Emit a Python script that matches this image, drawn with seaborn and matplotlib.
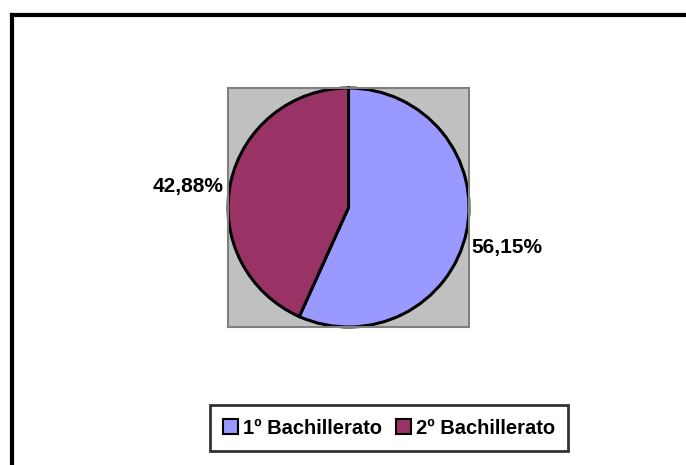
import matplotlib
matplotlib.use("Agg")
import matplotlib.pyplot as plt
import seaborn as sns
from matplotlib.lines import Line2D

# datos del gráfico
categorias = ["1º Bachillerato", "2º Bachillerato"]
porcentajes = [56.15, 42.88]
colores = ["#9999FF", "#993366"]

sns.set_style("white")
plt.rcParams['font.family'] = ['Liberation Sans', 'DejaVu Sans']
plt.rcParams['text.color'] = 'black'

fig = plt.figure(figsize=(6.86, 4.65), dpi=100)
ax = fig.add_axes([228 / 686, 1 - 327 / 465, 241 / 686, 239 / 465])

paleta = sns.color_palette(colores)
etiquetas = [f"{v:.2f}%".replace(".", ",") for v in porcentajes]
wedges, textos = ax.pie(porcentajes, colors=paleta, startangle=90, counterclock=False,
                        labels=etiquetas, labeldistance=1.04,
                        wedgeprops=dict(edgecolor="black", linewidth=2.2),
                        textprops=dict(fontsize=15, fontweight="bold", color="black"))
# ajuste fino de las etiquetas (Excel las coloca algo distinto)
x0, y0 = textos[0].get_position()
textos[0].set_position((x0, y0 - 0.12))
x1, y1 = textos[1].get_position()
textos[1].set_position((x1 - 0.02, y1 - 0.04))

ax.set_xlim(-1.0, 1.0)
ax.set_ylim(-1.0, 1.0)
ax.set_aspect("auto")
ax.set_frame_on(True)
ax.patch.set_visible(True)
ax.set_facecolor("#C0C0C0")
ax.set_xticks([])
ax.set_yticks([])
for s in ax.spines.values():
    s.set_visible(True)
    s.set_color("#808080")
    s.set_linewidth(1.5)

leg = fig.legend(wedges, categorias, loc="center", bbox_to_anchor=(389 / 686, 1 - 428 / 465),
                 ncol=2, frameon=True, fancybox=False, handlelength=0.75, handleheight=0.75,
                 handletextpad=0.25, columnspacing=0.7, borderpad=0.65, borderaxespad=0,
                 prop=dict(size=14.5, weight="bold"))
leg.get_frame().set_edgecolor("black")
leg.get_frame().set_linewidth(2)
for t in leg.get_texts():
    t.set_color("black")
for h in leg.legend_handles:
    h.set_edgecolor("black")
    h.set_linewidth(1.5)

# marco del gráfico (solo visibles borde superior e izquierdo)
fig.add_artist(Line2D([12 / 686, 12 / 686], [0, 1 - 15 / 465], color="black", lw=3,
                      transform=fig.transFigure, solid_capstyle="projecting"))
fig.add_artist(Line2D([12 / 686, 1], [1 - 15 / 465, 1 - 15 / 465], color="black", lw=3,
                      transform=fig.transFigure, solid_capstyle="projecting"))

fig.savefig("out.png", dpi=100)
